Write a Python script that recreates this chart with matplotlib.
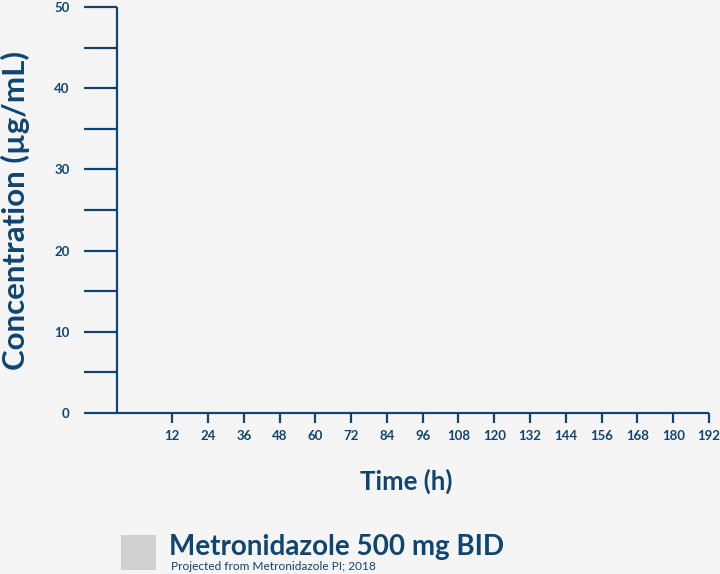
import matplotlib.pyplot as plt
from matplotlib.patches import Rectangle
from matplotlib.ticker import MultipleLocator

# chart content
x_ticks = [12, 24, 36, 48, 60, 72, 84, 96, 108, 120, 132, 144, 156, 168, 180, 192]
y_ticks = [0, 10, 20, 30, 40, 50]
y_minor_step = 5
x_limits = (-6.5, 192)
y_limits = (0, 50)
series_name = "Metronidazole 500 mg BID"
source_note = "Projected from Metronidazole PI; 2018"

NAVY = "#0f4570"
BG = "#f5f5f5"

plt.rcParams["font.family"] = ["Lato", "DejaVu Sans"]

W, H = 720, 574
fig = plt.figure(figsize=(W / 100, H / 100), dpi=100, facecolor=BG)
ax = fig.add_axes([117 / W, 1 - 413 / H, (709 - 117) / W, (413 - 7) / H])
ax.set_facecolor(BG)

ax.set_xlim(*x_limits)
ax.set_ylim(*y_limits)

for side in ["top", "right"]:
    ax.spines[side].set_visible(False)
for side in ["left", "bottom"]:
    ax.spines[side].set_color(NAVY)
    ax.spines[side].set_linewidth(1.6)
    ax.spines[side].set_capstyle("butt")

ax.set_xticks(x_ticks)
ax.set_xticklabels([str(t) for t in x_ticks])
ax.set_yticks(y_ticks)
ax.set_yticklabels([str(t) for t in y_ticks])
ax.yaxis.set_minor_locator(MultipleLocator(y_minor_step))

ax.tick_params(axis="x", which="major", direction="out", length=7.5, width=1.6,
               color=NAVY, labelcolor=NAVY, labelsize=9.5, pad=5)
ax.tick_params(axis="y", which="both", direction="out", length=24, width=1.6,
               color=NAVY, labelcolor=NAVY, labelsize=9.5, pad=10)
ax.tick_params(axis="y", which="minor", labelleft=False)
for lab in ax.get_xticklabels() + ax.get_yticklabels():
    lab.set_fontweight("bold")

# axis titles
fig.text(15 / W, 1 - 210 / H, "Concentration (µg/mL)", rotation=90, fontsize=22.5,
         fontweight="bold", color=NAVY, ha="center", va="center")
fig.text(406 / W, 1 - 481 / H, "Time (h)", fontsize=18.5, fontweight="bold",
         color=NAVY, ha="center", va="center")

# legend
fig.patches.append(Rectangle((121 / W, 1 - 570 / H), 35 / W, 35 / H,
                             transform=fig.transFigure, facecolor="#d0d0d0",
                             edgecolor="none"))
fig.text(169 / W, 1 - 547 / H, series_name, fontsize=20, fontweight="bold",
         color=NAVY, ha="left", va="center")
fig.text(171 / W, 1 - 566 / H, source_note, fontsize=8.6, color=NAVY,
         ha="left", va="center")

fig.savefig("out.png", dpi=100, facecolor=BG)
